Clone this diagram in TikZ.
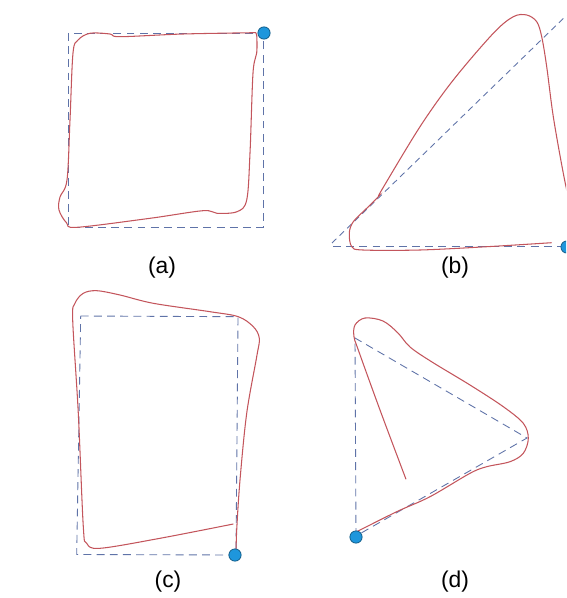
\documentclass[tikz,border=0pt]{standalone}
\usepackage{fontspec}
\setmainfont{Liberation Sans}
\usepackage{tikz}

\definecolor{tracered}{RGB}{195,85,92}
\definecolor{idealblue}{RGB}{95,115,168}
\definecolor{startblue}{RGB}{30,150,220}

\begin{document}
\begin{tikzpicture}[x=0.02cm,y=-0.02cm,
  idealline/.style={idealblue,line width=0.5pt,dash pattern=on 4.5pt off 3pt},
  traceline/.style={tracered,line width=0.6pt,smooth,tension=0.55},
  startdot/.style={circle,fill=startblue,draw=startblue!60!black,line width=0.4pt,inner sep=0pt,minimum size=7pt},
  panellabel/.style={font=\fontsize{13}{15}\selectfont}]
\useasboundingbox (0,0) rectangle (566,598);
\clip (0,0) rectangle (566,598);

% (a) square
\draw[idealline] (68,33) rectangle (263,227);
\draw[traceline] plot coordinates {(255,32.7) (183,34) (120,36.7) (110,34) (90,33.3) (78,40)
  (73,53) (70,120) (67,180) (60,197) (59,210) (66.7,223) (77,227.3) (150,218.3)
  (203,210.7) (217,213.3) (237,211.7) (246.7,200) (250,153) (253,73) (256.7,53)
  (256.7,35) (255,32.7)};
\node[startdot] (dota) at (264,33) {};
\node[panellabel] (capa) at (162,268) {(a)};

% (b) diagonal
\draw[idealline] (333,246.7) -- (562,246.7);
\draw[idealline,dash pattern=on 3.5pt off 2.5pt] (332,243) -- (570,12);
\draw[traceline] plot coordinates {(551.7,242.7) (487,246.7) (420,250) (363,250) (351.7,246.7)
  (349.3,233) (353.3,221.7) (366.7,208.3) (378.3,196.7) (381.7,190) (420,126.7)
  (453.3,80) (493.3,33.3) (513.3,16.7) (526.7,15) (536.7,21.7) (541.7,36.7)
  (546.7,66.7) (553.3,116.7) (563.3,173.3) (572,215)};
\node[startdot] (dotb) at (567,247) {};
\node[panellabel] (capb) at (455,268) {(b)};

% (c) rectangle
\draw[idealline] (80.7,316) -- (238,316.7) -- (236,555) -- (76.7,554.5) -- cycle;
\draw[traceline] plot coordinates {(233.3,524) (160,538.3) (100,548.3) (86.7,543.3) (83.3,526.7)
  (78.3,413.3) (72.7,320) (75,303.3) (83.3,293.3) (96.7,290.7) (120,295) (153.3,303.3)
  (210,311.7) (238.3,316.7) (253.3,326.7) (259.3,338.3) (256.7,356.7) (246.7,413.3)
  (240,480) (236.7,530) (236,555)};
\node[startdot] (dotc) at (235,555) {};
\node[panellabel] (capc) at (168,582) {(c)};

% (d) triangle
\draw[idealline] (356,536) -- (355,338) -- (527,438) -- cycle;
\draw[traceline] plot coordinates {(356.7,531.7) (396.7,511.7) (430,496.7) (470,473.3) (486.7,466.7)
  (510,461.7) (523.3,453.3) (528.3,438.3) (523.3,423.3) (503.3,406.7) (470,385)
  (432,362) (410,347) (398,333) (383,321) (365,318) (355,325) (354,336.7) (358.3,350)
  (380,410) (406,479.3)};
\node[startdot] (dotd) at (356,537) {};
\node[panellabel] (capd) at (455,582) {(d)};
\end{tikzpicture}
\end{document}
